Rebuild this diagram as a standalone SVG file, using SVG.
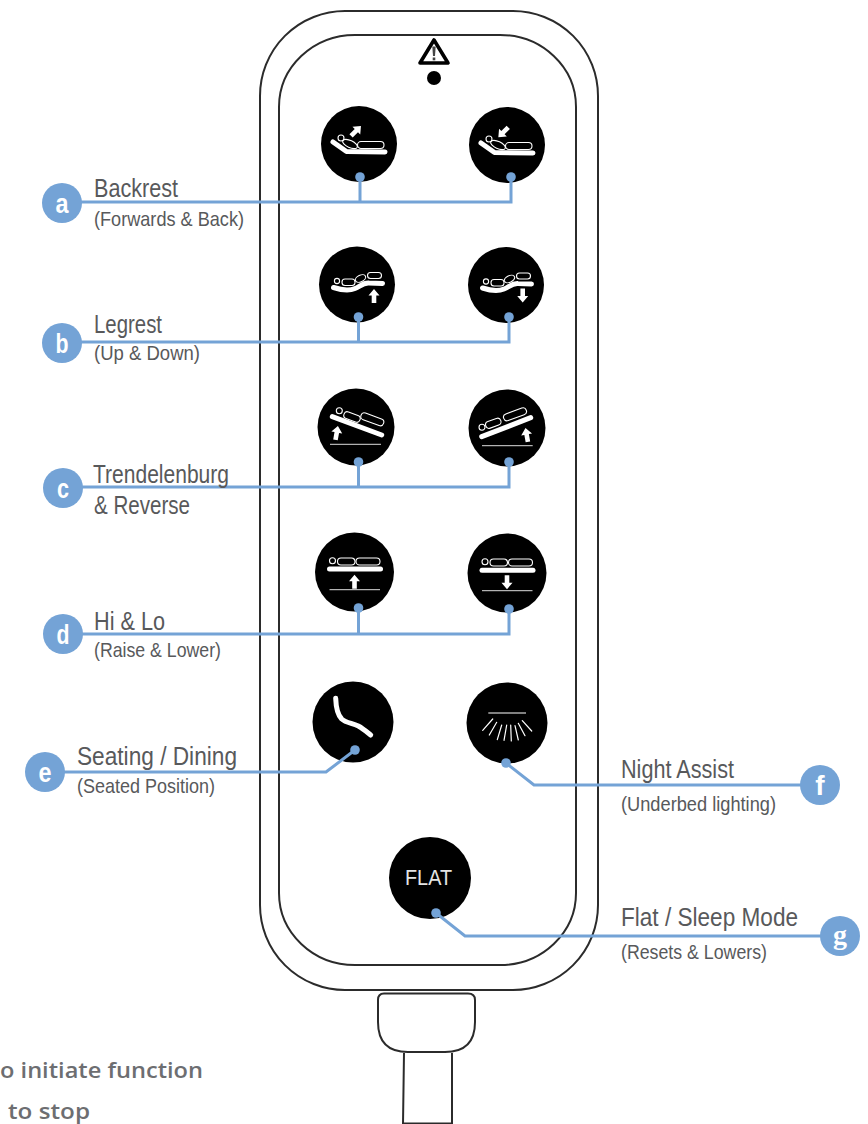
<svg xmlns="http://www.w3.org/2000/svg" xmlns:xlink="http://www.w3.org/1999/xlink" width="868" height="1124" viewBox="0 0 868 1124">
<style>
text{font-family:"Liberation Sans",Arial,sans-serif;fill:#58595b}
.m{font-size:25px}
.s{font-size:21px}
.b{font-weight:700;font-size:28px;fill:#fff;text-anchor:middle}
.n{font-family:"Open Sans",Arial,sans-serif;font-weight:600;font-size:22px;fill:#6d6e71}
.o{fill:none;stroke:#2b2b2b;stroke-width:2}
.btn{fill:#000}
.bed{fill:none;stroke:#fff;stroke-width:5;stroke-linecap:round;stroke-linejoin:round}
.thin{fill:none;stroke:#fff;stroke-width:1.1}
.g{stroke:#ddd;stroke-width:1;fill:none}
.ray{stroke:#fff;stroke-width:1.2;stroke-linecap:round;fill:none}
.c{fill:none;stroke:#74a3d6;stroke-width:3}
.d{fill:#74a3d6}
.ar{fill:#fff}
</style>
<defs>
<polygon id="arrow" points="0,-7 5.500,-0.500 2.300,-0.500 2.300,7 -2.300,7 -2.300,-0.500 -5.500,-0.500"/>
</defs>
<g id="device">
<rect class="o" x="260" y="11" width="338" height="979" rx="85" ry="85"/>
<rect class="o" x="279" y="35" width="297" height="930" rx="76" ry="72"/>
<path class="o" d="M384,993.500H468Q475,993.500 475,1000V1022Q475,1052 445,1052H408Q378,1052 378,1022V1000Q378,993.500 384,993.500Z"/>
<path class="o" d="M404,1053L403,1124M452,1053V1124M403,1123.500H452"/>
</g>
<g id="warning">
<path d="M434,40L448,63H420Z" fill="#fff" stroke="#000" stroke-width="3.600" stroke-linejoin="round"/>
<path d="M432.300,46.500H435.700L435,56H433Z" fill="#444"/>
<rect x="432.700" y="57.500" width="2.600" height="2.800" fill="#444"/>
<circle cx="434" cy="78" r="7" fill="#000"/>
</g>
<g id="btn-a1" transform="translate(359,144)">
<circle class="btn" r="38"/>
<path class="bed" d="M-26,-2L-12.500,7.500L26,8"/>
<circle class="thin" cx="-18" cy="-6" r="3"/>
<ellipse class="thin" cx="-9" cy="0" rx="8" ry="3.500" transform="rotate(25 -9 0)"/>
<rect class="thin" x="-1.500" y="-2.500" width="26.500" height="7" rx="3.500"/>
<use xlink:href="#arrow" class="ar" transform="translate(-3,-13) rotate(45)"/>
</g>
<g id="btn-a2" transform="translate(507,145)">
<circle class="btn" r="38"/>
<path class="bed" d="M-26,-2L-12.500,7.500L26,8"/>
<circle class="thin" cx="-18" cy="-6" r="3"/>
<ellipse class="thin" cx="-9" cy="0" rx="8" ry="3.500" transform="rotate(25 -9 0)"/>
<rect class="thin" x="-1.500" y="-2.500" width="26.500" height="7" rx="3.500"/>
<use xlink:href="#arrow" class="ar" transform="translate(-3.700,-12.700) rotate(225)"/>
</g>
<g id="btn-b1" transform="translate(357,284.500)">
<circle class="btn" r="38"/>
<path class="bed" d="M-23.500,3C-14,6 -7,6 -2,4C3,2 6,-2 12,-1.500L25.500,-1"/>
<circle class="thin" cx="-20" cy="-3.500" r="2.600"/>
<rect class="thin" x="-15" y="-5.500" width="13" height="6.500" rx="3"/>
<ellipse class="thin" cx="3.500" cy="-6" rx="5.500" ry="3.200" transform="rotate(-25 3.500 -6)"/>
<rect class="thin" x="10.500" y="-12" width="14" height="6" rx="3"/>
<use xlink:href="#arrow" class="ar" transform="translate(17,11.500)"/>
</g>
<g id="btn-b2" transform="translate(506,285)">
<circle class="btn" r="38"/>
<path class="bed" d="M-23.500,3C-14,6 -7,6 -2,4C3,2 6,-2 12,-1.500L25.500,-1"/>
<circle class="thin" cx="-20" cy="-3.500" r="2.600"/>
<rect class="thin" x="-15" y="-5.500" width="13" height="6.500" rx="3"/>
<ellipse class="thin" cx="3.500" cy="-6" rx="5.500" ry="3.200" transform="rotate(-25 3.500 -6)"/>
<rect class="thin" x="10.500" y="-12" width="14" height="6" rx="3"/>
<use xlink:href="#arrow" class="ar" transform="translate(16.700,10.500) rotate(180)"/>
</g>
<g id="btn-c1" transform="translate(356,427)">
<circle class="btn" r="38.500"/>
<path class="bed" d="M-23.700,-10.300L25.700,8"/>
<circle class="thin" cx="-16.700" cy="-16.300" r="3"/>
<rect class="thin" x="-12.500" y="-13.500" width="17" height="7" rx="3.500" transform="rotate(20 -4 -10)"/>
<rect class="thin" x="4.300" y="-11.200" width="24" height="7" rx="3.500" transform="rotate(20 16.300 -7.700)"/>
<use xlink:href="#arrow" class="ar" transform="translate(-19.300,6) rotate(10)"/>
<path class="g" d="M-26,17.300H25"/>
</g>
<g id="btn-c2" transform="translate(507,428)">
<circle class="btn" r="38.500"/>
<path class="bed" d="M-25.300,8.700L23.700,-10.300"/>
<circle class="thin" cx="-25" cy="-0.700" r="3"/>
<rect class="thin" x="-21.700" y="-8.200" width="16" height="7" rx="3.500" transform="rotate(-20 -13.700 -4.700)"/>
<rect class="thin" x="-4" y="-17.200" width="24" height="7" rx="3.500" transform="rotate(-20 8 -13.700)"/>
<use xlink:href="#arrow" class="ar" transform="translate(19.700,7) rotate(-10)"/>
<path class="g" d="M-25,17.700H25.700"/>
</g>
<g id="btn-d1" transform="translate(354.500,572)">
<circle class="btn" r="39.500"/>
<path class="bed" d="M-25,-3H26"/>
<circle class="thin" cx="-22" cy="-11.300" r="3"/>
<rect class="thin" x="-17" y="-14" width="17.500" height="7" rx="3.500"/>
<rect class="thin" x="1.500" y="-14" width="24" height="7" rx="3.500"/>
<use xlink:href="#arrow" class="ar" transform="translate(0,9.700)"/>
<path class="g" d="M-25,17.700H25.500"/>
</g>
<g id="btn-d2" transform="translate(507,573)">
<circle class="btn" r="39.500"/>
<path class="bed" d="M-25,-2.700H26"/>
<circle class="thin" cx="-22" cy="-11.300" r="3"/>
<rect class="thin" x="-17" y="-14" width="17.500" height="7" rx="3.500"/>
<rect class="thin" x="1.500" y="-14" width="24" height="7" rx="3.500"/>
<use xlink:href="#arrow" class="ar" transform="translate(0,9.300) rotate(180)"/>
<path class="g" d="M-25,17.700H25.500"/>
</g>
<g id="btn-e" transform="translate(353,722)">
<circle class="btn" r="40.500"/>
<path class="bed" d="M-17.300,-23.700C-17,-15 -16,-8 -11.300,-3C-7,1 -1,1 5.300,4C10,6.500 14,10 17.700,13"/>
</g>
<g id="btn-f" transform="translate(507,723)">
<circle class="btn" r="40.500"/>
<path class="thin" d="M-18.700,-10H19"/>
<path class="ray" d="M-14.300,-4L-24.300,7.300M-10.300,-0.700L-17.700,12M-5.300,2L-9.700,16.700M-0.300,2L-3,17.300M3.700,2L4.300,18M8,2.700L11.300,17M11.300,0.300L18,12.700M15.300,-2.300L24.700,8"/>
</g>
<g id="btn-flat">
<circle class="btn" cx="430" cy="878" r="41"/>
<text x="405" y="885" font-size="22" textLength="47" lengthAdjust="spacingAndGlyphs" style="fill:#e4e4e4">FLAT</text>
</g>
<g id="connectors">
<path class="c" d="M62,202H511V177M360,177V202"/>
<path class="c" d="M62,342H509V317M358.500,317V342"/>
<path class="c" d="M63,487H509V462M358.500,462V487"/>
<path class="c" d="M63,634H509V609M358.500,608V634"/>
<path class="c" d="M45,772H326L355,750"/>
<path class="c" d="M506,763L534,785H820"/>
<path class="c" d="M436,913L465,936H840"/>
<g class="d">
<circle cx="360" cy="177" r="4.800"/><circle cx="511" cy="177" r="4.800"/>
<circle cx="358.500" cy="317" r="4.800"/><circle cx="509" cy="317" r="4.800"/>
<circle cx="358.500" cy="462" r="4.800"/><circle cx="509" cy="462" r="4.800"/>
<circle cx="358.500" cy="608" r="4.800"/><circle cx="509" cy="609" r="4.800"/>
<circle cx="355" cy="750" r="4.800"/><circle cx="506" cy="763" r="4.800"/><circle cx="436" cy="913" r="4.800"/>
</g>
</g>
<g id="label-a"><circle class="d" cx="62" cy="203" r="20"/><text class="b" x="62" y="213" textLength="13" lengthAdjust="spacingAndGlyphs">a</text>
<text class="m" x="94" y="197" textLength="84" lengthAdjust="spacingAndGlyphs">Backrest</text>
<text class="s" x="94" y="226" textLength="150" lengthAdjust="spacingAndGlyphs">(Forwards &amp; Back)</text></g>
<g id="label-b"><circle class="d" cx="62" cy="343" r="20"/><text class="b" x="62" y="353" textLength="13" lengthAdjust="spacingAndGlyphs">b</text>
<text class="m" x="94" y="333" textLength="68" lengthAdjust="spacingAndGlyphs">Legrest</text>
<text class="s" x="94" y="360" textLength="106" lengthAdjust="spacingAndGlyphs">(Up &amp; Down)</text></g>
<g id="label-c"><circle class="d" cx="63" cy="488" r="20"/><text class="b" x="63" y="498" textLength="12" lengthAdjust="spacingAndGlyphs">c</text>
<text class="m" x="93" y="483" textLength="136" lengthAdjust="spacingAndGlyphs">Trendelenburg</text>
<text class="m" x="94" y="514" textLength="96" lengthAdjust="spacingAndGlyphs">&amp; Reverse</text></g>
<g id="label-d"><circle class="d" cx="63" cy="634" r="20"/><text class="b" x="63" y="644" textLength="13" lengthAdjust="spacingAndGlyphs">d</text>
<text class="m" x="94" y="630" textLength="71" lengthAdjust="spacingAndGlyphs">Hi &amp; Lo</text>
<text class="s" x="94" y="657" textLength="127" lengthAdjust="spacingAndGlyphs">(Raise &amp; Lower)</text></g>
<g id="label-e"><circle class="d" cx="45" cy="772" r="20"/><text class="b" x="45" y="782" textLength="13" lengthAdjust="spacingAndGlyphs">e</text>
<text class="m" x="77" y="765" textLength="160" lengthAdjust="spacingAndGlyphs">Seating / Dining</text>
<text class="s" x="77" y="793" textLength="138" lengthAdjust="spacingAndGlyphs">(Seated Position)</text></g>
<g id="label-f"><circle class="d" cx="820" cy="785" r="20"/><text class="b" x="820" y="795">f</text>
<text class="m" x="621" y="778" textLength="113" lengthAdjust="spacingAndGlyphs">Night Assist</text>
<text class="s" x="621" y="811" textLength="155" lengthAdjust="spacingAndGlyphs">(Underbed lighting)</text></g>
<g id="label-g"><circle class="d" cx="840" cy="936" r="20"/><text class="b" x="840" y="944" style="font-family:'Liberation Serif',serif">g</text>
<text class="m" x="621" y="926" textLength="177" lengthAdjust="spacingAndGlyphs">Flat / Sleep Mode</text>
<text class="s" x="621" y="959" textLength="146" lengthAdjust="spacingAndGlyphs">(Resets &amp; Lowers)</text></g>
<g id="notes">
<text class="n" x="0" y="1078" textLength="203" lengthAdjust="spacingAndGlyphs">o initiate function</text>
<text class="n" x="8" y="1119" textLength="82" lengthAdjust="spacingAndGlyphs">to stop</text>
</g>
</svg>
